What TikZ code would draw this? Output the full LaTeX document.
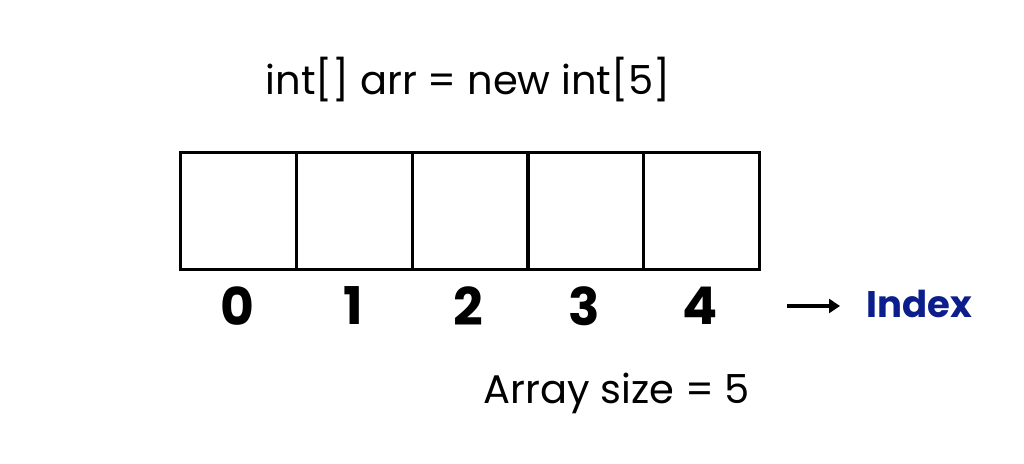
\documentclass[tikz,border=0pt]{standalone}
\usepackage{fontspec}
\setmainfont{Poppins}
\usetikzlibrary{arrows.meta}
\definecolor{idxblue}{RGB}{12,30,140}
\tikzset{
  cell/.style={draw=black, line width=3pt, minimum width=116pt, minimum height=117pt, inner sep=0pt, anchor=north west},
  digit/.style={font=\fontsize{52}{52}\selectfont\bfseries, inner sep=0pt},
  label/.style={font=\fontsize{40}{40}\selectfont, inner sep=0pt},
}
\begin{document}
\begin{tikzpicture}[x=1pt,y=-1pt]
\useasboundingbox[fill=white] (0,0) rectangle (1024,463);
\node[label] (title) at (468,80) {int[] arr = new int[5]};
\foreach \i in {0,...,4} {
  \node[cell] (c\i) at (179+\i*115.8,151) {};
  \node[digit] (d\i) at (237+\i*115.8,306) {\i};
}
\coordinate (a1) at (787,306);
\node[font=\fontsize{37}{37}\selectfont\bfseries, text=idxblue, inner sep=0pt] (idx) at (919,304) {Index};
\draw[line width=3.5pt, -{Triangle[length=11pt,width=14pt]}] (a1) -- (840,306) coordinate (a2);
\node[label] (size) at (617,393) {Array size = 5};
\end{tikzpicture}
\end{document}
